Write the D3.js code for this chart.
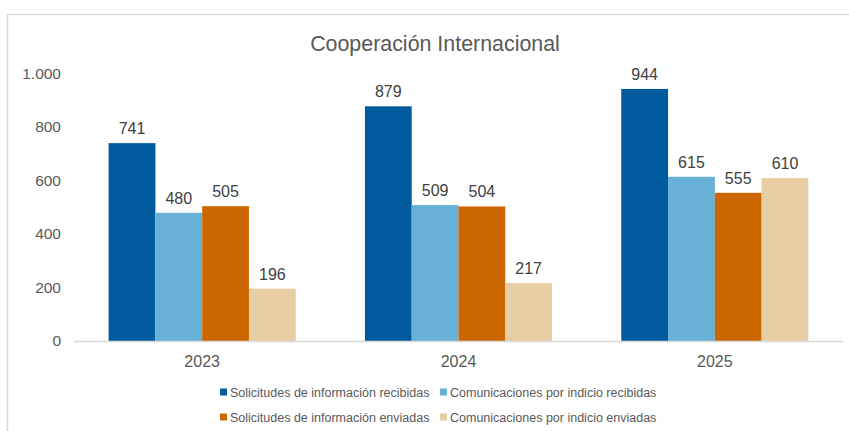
<!DOCTYPE html>
<html><head><meta charset="utf-8">
<script src="https://cdn.jsdelivr.net/npm/d3@7"></script>
<style>body{margin:0;background:#fff;} text{font-family:"Liberation Sans",Arial,sans-serif;}</style>
</head><body><svg id="c" width="849" height="431"></svg>
<script>
const years = ["2023","2024","2025"];
const seriesNames = ["Solicitudes de información recibidas","Comunicaciones por indicio recibidas","Solicitudes de información enviadas","Comunicaciones por indicio enviadas"];
const solicitudesRecibidas = [741,879,944];
const comunicacionesRecibidas = [480,509,615];
const solicitudesEnviadas = [505,504,555];
const comunicacionesEnviadas = [196,217,610];
const yTicks = [0,200,400,600,800,1000];
const colors = ["#005a9e","#67b0d6","#cc6600","#e8cea4"];
const title = "Cooperación Internacional";

const seriesValues = [solicitudesRecibidas,comunicacionesRecibidas,solicitudesEnviadas,comunicacionesEnviadas];
const svg = d3.select("#c");
const fmt = v => d3.format(",")(v).replace(/,/g,".");

// frame
svg.append("line").attr("x1",7).attr("x2",849).attr("y1",14.5).attr("y2",14.5).attr("stroke","#d9d9d9").attr("stroke-width",1.5);
svg.append("line").attr("x1",7.5).attr("x2",7.5).attr("y1",14).attr("y2",431).attr("stroke","#d9d9d9").attr("stroke-width",1.5);

const x0 = d3.scaleBand().domain(years).range([74,843]).padding(0);
const x1 = d3.scaleBand().domain(d3.range(4)).range([0,x0.bandwidth()*0.73]).padding(0);
const y = d3.scaleLinear().domain([0,1000]).range([341,74]);

svg.append("text").attr("x",435).attr("y",51).attr("text-anchor","middle").attr("font-size",21.4).attr("fill","#595959").text(title);

// y tick labels
svg.selectAll(".yt").data(yTicks).enter().append("text")
  .attr("x",61).attr("y",d=>y(d)+5).attr("text-anchor","end").attr("font-size",15.5).attr("fill","#595959").text(fmt);

const groups = svg.selectAll(".g").data(years).enter().append("g")
  .attr("transform",d=>`translate(${x0(d)+x0.bandwidth()*0.135},0)`);
groups.each(function(yr,i){
  const g = d3.select(this);
  seriesValues.forEach((vals,s)=>{
    g.append("rect").attr("x",x1(s)).attr("width",x1.bandwidth()).attr("y",y(vals[i])).attr("height",y(0)-y(vals[i])).attr("fill",colors[s]);
    g.append("text").attr("x",x1(s)+x1.bandwidth()/2).attr("y",y(vals[i])-9).attr("text-anchor","middle").attr("font-size",16).attr("fill","#404040").text(fmt(vals[i]));
  });
});

// axis line
svg.append("line").attr("x1",74).attr("x2",843).attr("y1",341.5).attr("y2",341.5).attr("stroke","#d9d9d9").attr("stroke-width",1.5);

svg.selectAll(".xt").data(years).enter().append("text")
  .attr("x",d=>x0(d)+x0.bandwidth()/2).attr("y",367).attr("text-anchor","middle").attr("font-size",16).attr("fill","#595959").text(d=>d);

// legend
const legPos = [[220,392],[440,392],[220,417],[440,417]];
seriesNames.forEach((n,i)=>{
  const [lx,ly]=legPos[i];
  svg.append("rect").attr("x",lx).attr("y",ly-3.5).attr("width",7).attr("height",7).attr("fill",colors[i]);
  svg.append("text").attr("x",lx+10).attr("y",ly+4.5).attr("font-size",12.5).attr("fill","#595959").text(n);
});
</script></body></html>
